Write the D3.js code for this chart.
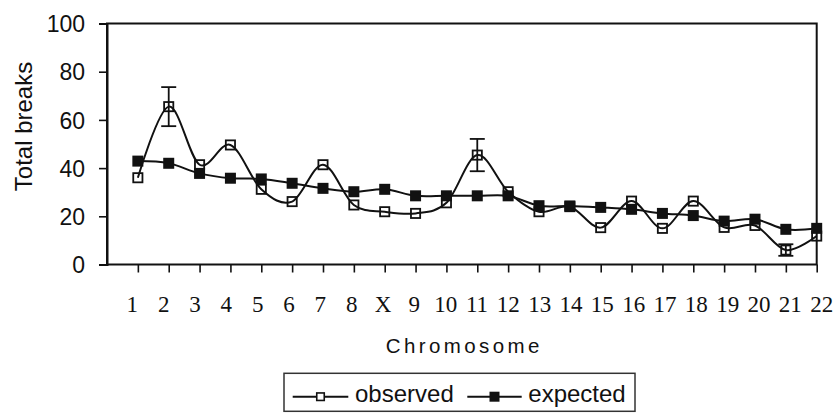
<!DOCTYPE html>
<html>
<head>
<meta charset="utf-8">
<script src="https://cdn.jsdelivr.net/npm/d3@7/dist/d3.min.js"></script>
<style>
    body { margin: 0; background: #fff; }
    svg { display: block; }
    .sans { font-family: "Liberation Sans", Arial, sans-serif; fill: #111; }
    .serif { font-family: "Liberation Serif", "Times New Roman", serif; fill: #111; }
</style>
</head>
<body>
<div id="chartdiv"></div>
<script>
/*global d3 */

var chromosomes = ["1", "2", "3", "4", "5", "6", "7", "8", "X", "9", "10",
                   "11", "12", "13", "14", "15", "16", "17", "18", "19",
                   "20", "21", "22"];
var observed = [36.0, 65.5, 41.4, 49.6, 31.2, 26.1, 41.4, 24.7, 21.9, 21.2,
                25.6, 45.4, 30.2, 21.9, 24.0, 15.3, 26.3, 15.0, 26.3, 15.4,
                16.2, 6.0, 11.8];
var expected = [42.9, 42.0, 37.8, 35.8, 35.5, 33.7, 31.6, 30.2, 31.2, 28.5,
                28.5, 28.5, 28.5, 24.4, 24.3, 23.7, 22.9, 21.2, 20.3, 18.0,
                18.8, 14.6, 15.0];
var errorChromosomes = ["2", "11", "21"];
var errorSizes = [8.1, 6.7, 2.4];
var yTicks = [0, 20, 40, 60, 80, 100];
var seriesNames = ["observed", "expected"];

(function () {
    "use strict";

    var ch = {w: 840, h: 414};
    var box = {left: 107, top: 23.5, right: 816.7, bottom: 264.5};
    var svg, x, xLabel, y, line, pts, errs;

    svg = d3.select("#chartdiv").append("svg")
        .attr("width", ch.w)
        .attr("height", ch.h);

    //categories sit one step in from the left frame, last one on the right edge
    x = d3.scaleLinear().domain([-1, chromosomes.length - 1])
        .range([box.left, box.right]);
    //the printed labels drift a little wider than the tick marks
    xLabel = d3.scaleLinear().domain([0, chromosomes.length - 1])
        .range([132.3, 821.7]);
    y = d3.scaleLinear().domain([0, 100]).range([box.bottom, box.top]);

    //frame
    svg.append("rect")
        .attr("x", box.left).attr("y", box.top)
        .attr("width", box.right - box.left)
        .attr("height", box.bottom - box.top)
        .attr("fill", "none")
        .attr("stroke", "#111")
        .attr("stroke-width", 2);

    //y axis
    var yAxis = svg.append("g")
        .attr("transform", "translate(" + box.left + ",0)")
        .call(d3.axisLeft(y).tickValues(yTicks).tickSize(8).tickPadding(14));
    yAxis.select(".domain").attr("stroke", "#111").attr("stroke-width", 2);
    yAxis.selectAll(".tick line").attr("stroke", "#111").attr("stroke-width", 1.6);
    yAxis.selectAll(".tick text")
        .attr("class", "sans")
        .attr("font-size", 23)
        .attr("dy", "0.36em");
    yAxis.attr("font-family", null).attr("font-size", null);

    //x axis, ticks only
    var xAxis = svg.append("g")
        .attr("transform", "translate(0," + box.bottom + ")")
        .call(d3.axisBottom(x).tickValues(d3.range(chromosomes.length))
              .tickSize(8).tickFormat(""));
    xAxis.select(".domain").remove();
    xAxis.selectAll(".tick line").attr("stroke", "#111").attr("stroke-width", 1.6);

    svg.append("g").selectAll("text")
        .data(chromosomes)
        .enter().append("text")
        .attr("class", "serif")
        .attr("x", function (d, i) { return xLabel(i); })
        .attr("y", 311.7)
        .attr("text-anchor", "middle")
        .attr("font-size", 23)
        .text(function (d) { return d; });

    //axis titles
    svg.append("text")
        .attr("class", "sans")
        .attr("transform", "translate(32,126.5) rotate(-90)")
        .attr("text-anchor", "middle")
        .attr("font-size", 24)
        .text("Total breaks");
    svg.append("text")
        .attr("class", "sans")
        .attr("x", 464.2).attr("y", 352.7)
        .attr("text-anchor", "middle")
        .attr("font-size", 20.5)
        .attr("letter-spacing", 3.4)
        .text("Chromosome");

    //smoothed lines
    line = d3.line()
        .x(function (d, i) { return x(i); })
        .y(function (d) { return y(d); })
        .curve(d3.curveCatmullRom.alpha(0));

    pts = svg.append("g");
    pts.append("path")
        .attr("d", line(observed))
        .attr("fill", "none")
        .attr("stroke", "#111")
        .attr("stroke-width", 2);

    //error bars on observed
    errs = svg.append("g").selectAll("g")
        .data(errorChromosomes)
        .enter().append("g")
        .attr("stroke", "#111")
        .attr("stroke-width", 1.8);
    errs.append("line")
        .attr("x1", function (d) { return x(chromosomes.indexOf(d)); })
        .attr("x2", function (d) { return x(chromosomes.indexOf(d)); })
        .attr("y1", function (d, i) {
            return y(observed[chromosomes.indexOf(d)] + errorSizes[i]); })
        .attr("y2", function (d, i) {
            return y(observed[chromosomes.indexOf(d)] - errorSizes[i]); });
    [1, -1].forEach(function (sign) {
        errs.append("line")
            .attr("x1", function (d) { return x(chromosomes.indexOf(d)) - 7.5; })
            .attr("x2", function (d) { return x(chromosomes.indexOf(d)) + 7.5; })
            .attr("y1", function (d, i) {
                return y(observed[chromosomes.indexOf(d)] + sign * errorSizes[i]); })
            .attr("y2", function (d, i) {
                return y(observed[chromosomes.indexOf(d)] + sign * errorSizes[i]); });
    });

    svg.append("g").selectAll("rect")
        .data(observed)
        .enter().append("rect")
        .attr("x", function (d, i) { return x(i) - 4.6; })
        .attr("y", function (d) { return y(d) - 4.6; })
        .attr("width", 9.2).attr("height", 9.2)
        .attr("fill", "none")
        .attr("stroke", "#111")
        .attr("stroke-width", 1.8);

    svg.append("path")
        .attr("d", line(expected))
        .attr("fill", "none")
        .attr("stroke", "#111")
        .attr("stroke-width", 2);
    svg.append("g").selectAll("rect")
        .data(expected)
        .enter().append("rect")
        .attr("x", function (d, i) { return x(i) - 5.5; })
        .attr("y", function (d) { return y(d) - 5.5; })
        .attr("width", 11).attr("height", 11)
        .attr("fill", "#111");

    //legend
    var lg = svg.append("g");
    lg.append("rect")
        .attr("x", 284).attr("y", 373.3)
        .attr("width", 351).attr("height", 38)
        .attr("fill", "#fff")
        .attr("stroke", "#333")
        .attr("stroke-width", 1.5);
    var items = [
        {x1: 292.7, x2: 348.3, tx: 355, filled: false},
        {x1: 467.3, x2: 521.7, tx: 528.3, filled: true}
    ];
    items.forEach(function (it, i) {
        var cx = (it.x1 + it.x2) / 2, s = it.filled ? 10 : 7.5;
        lg.append("line")
            .attr("x1", it.x1).attr("x2", it.x2)
            .attr("y1", 396.7).attr("y2", 396.7)
            .attr("stroke", "#111").attr("stroke-width", 2);
        lg.append("rect")
            .attr("x", cx - s / 2).attr("y", 396.7 - s / 2)
            .attr("width", s).attr("height", s)
            .attr("fill", it.filled ? "#111" : "#fff")
            .attr("stroke", "#111")
            .attr("stroke-width", it.filled ? 0 : 1.6);
        lg.append("text")
            .attr("class", "sans")
            .attr("x", it.tx).attr("y", 401.7)
            .attr("font-size", 24)
            .text(seriesNames[i]);
    });
}());
</script>
</body>
</html>
